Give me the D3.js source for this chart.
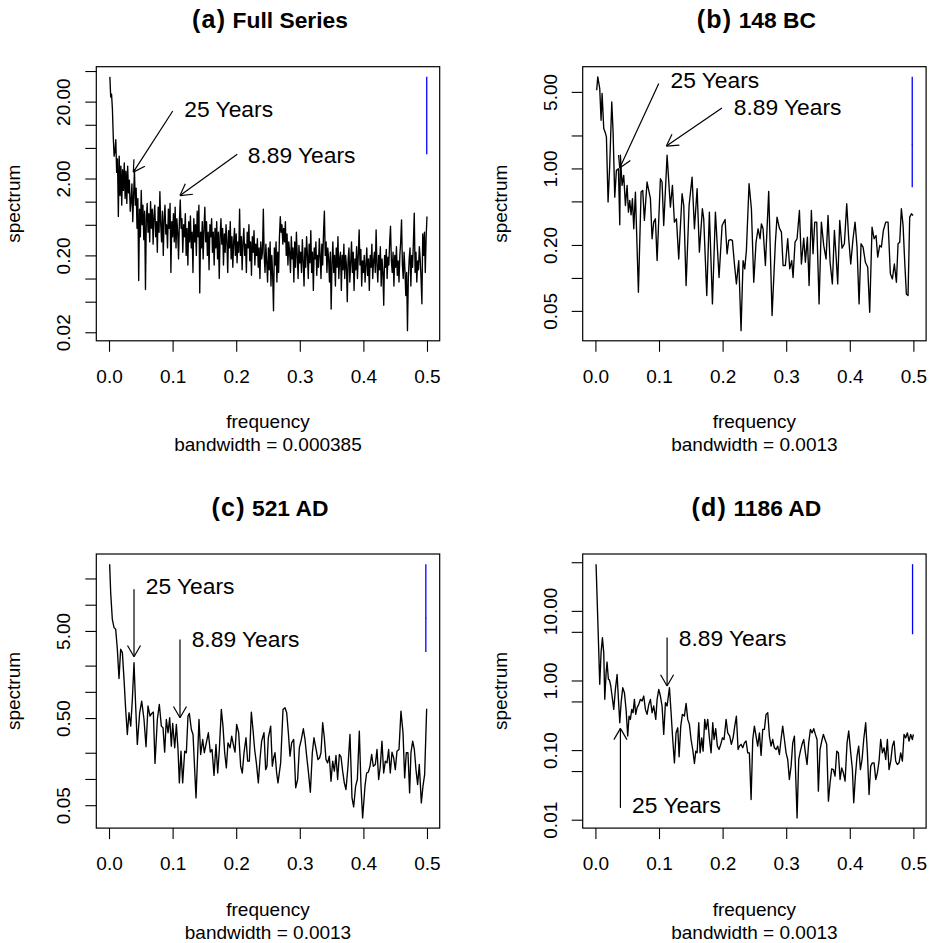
<!DOCTYPE html>
<html><head><meta charset="utf-8">
<script src="https://cdn.jsdelivr.net/npm/d3@7"></script>
<style>
body{margin:0;background:#fff}
svg{display:block}
text{font-family:"Liberation Sans",Arial,Helvetica,sans-serif;fill:#000}
</style>
</head><body>
<svg id="chart" width="934" height="943"></svg>
<script>
// ---------- data ----------
// (a) Full series: raw periodogram on Fourier frequencies k/750, k = 1..375
const specA = [
42,23,25,16,7.0,3.9,4.5,6.4,2.4,3.6,0.64,3.9,1.2,2.9,0.9,2.6,1.4,3.2,1.1,2.5,0.95,2.9,1.3,1.9,0.75,
1.0,1.7,0.55,1.2,2.6,0.9,1.5,0.45,1.1,0.094,0.8,0.35,1.4,0.5,0.9,0.32,0.75,0.072,0.6,0.95,0.4,0.7,0.3,1.0,0.45,
0.8,0.28,0.65,0.9,0.35,0.55,0.22,0.85,0.4,1.35,0.5,0.3,0.75,0.2,0.6,0.9,0.38,0.5,0.25,0.8,0.45,0.95,0.12,0.55,0.35,
0.7,0.3,0.85,0.25,0.6,0.4,0.18,0.55,1.05,0.45,0.6,0.22,0.5,0.35,0.7,0.2,0.45,0.15,0.55,0.3,0.65,0.25,0.4,0.12,0.6,
0.3,0.5,0.2,0.75,0.35,0.9,0.065,0.4,0.25,0.55,0.18,0.45,0.85,0.3,0.55,0.2,0.4,0.13,0.5,0.35,0.6,0.22,0.4,0.15,0.45,
0.25,0.55,0.18,0.4,0.1,0.35,0.6,0.28,0.45,0.15,0.38,0.22,0.5,0.3,0.12,0.42,0.25,0.55,0.18,0.35,0.14,0.3,0.45,0.2,0.38,
0.16,0.3,0.22,0.8,0.2,0.35,0.13,0.3,0.45,0.2,0.28,0.12,0.4,0.25,0.5,0.17,0.3,0.11,0.35,0.22,0.42,0.15,0.28,0.2,0.33,
0.14,0.25,0.1,0.3,0.18,0.22,0.8,0.2,0.12,0.28,0.16,0.09,0.25,0.13,0.3,0.08,0.2,0.11,0.038,0.25,0.15,0.3,0.09,0.22,0.12,
0.35,0.64,0.4,0.5,0.28,0.45,0.3,0.55,0.2,0.38,0.15,0.3,0.22,0.12,0.35,0.18,0.25,0.09,0.3,0.14,0.4,0.2,0.1,0.27,0.16,
0.22,0.12,0.32,0.17,0.08,0.25,0.14,0.35,0.2,0.1,0.28,0.16,0.42,0.12,0.22,0.07,0.25,0.18,0.3,0.11,0.2,0.14,0.33,0.2,0.1,
0.28,0.15,0.4,0.75,0.2,0.3,0.12,0.25,0.18,0.09,0.22,0.04,0.16,0.3,0.12,0.2,0.08,0.25,0.14,0.35,0.1,0.18,0.22,0.07,0.2,
0.13,0.28,0.1,0.2,0.15,0.05,0.18,0.25,0.09,0.16,0.3,0.12,0.22,0.07,0.18,0.13,0.26,0.1,0.2,0.43,0.15,0.24,0.08,0.17,0.12,
0.2,0.09,0.15,0.25,0.11,0.18,0.07,0.2,0.14,0.28,0.1,0.17,0.22,0.12,0.43,0.15,0.09,0.2,0.13,0.26,0.08,0.18,0.12,0.045,0.2,
0.14,0.24,0.1,0.19,0.15,0.3,0.48,0.17,0.12,0.22,0.08,0.2,0.14,0.26,0.11,0.17,0.09,0.2,0.3,0.58,0.15,0.1,0.22,0.13,0.06,
0.12,0.021,0.1,0.18,0.25,0.08,0.2,0.14,0.3,0.71,0.12,0.22,0.09,0.17,0.13,0.26,0.18,0.1,0.047,0.38,0.2,0.4,0.12,0.35,0.64];
const freqA = specA.map((_, i) => (i + 1) / 750);   // Fourier frequency grid

// (b) 148 BC
const freqB = [
0.002,0.0037,0.0068,0.0089,0.0105,0.0131,0.0152,0.0173,0.0199,0.0225,
0.0257,0.0278,0.0304,0.0330,0.0362,0.0383,0.0393,0.0419,0.0445,0.0472,
0.0498,0.0519,0.0540,0.0561,0.0582,0.0603,0.0629,0.0676,0.0718,0.0744,
0.0770,0.0812,0.0844,0.0865,0.0891,0.0917,0.0943,0.0970,0.1022,0.1048,
0.1074,0.1127,0.1179,0.1211,0.1242,0.1274,0.1310,0.1363,0.1389,0.1426,
0.1473,0.1520,0.1557,0.1599,0.1635,0.1682,0.1703,0.1751,0.1792,0.1840,
0.1887,0.1944,0.1992,0.2039,0.2070,0.2096,0.2123,0.2154,0.2186,0.2217,
0.2254,0.2290,0.2322,0.2348,0.2374,0.2416,0.2453,0.2490,0.2526,0.2558,
0.2589,0.2610,0.2636,0.2673,0.2725,0.2778,0.2830,0.2856,0.2893,0.2925,
0.2951,0.2987,0.3024,0.3056,0.3087,0.3108,0.3139,0.3171,0.3208,0.3239,
0.3276,0.3302,0.3333,0.3360,0.3396,0.3422,0.3449,0.3480,0.3517,0.3553,
0.3590,0.3627,0.3658,0.3690,0.3726,0.3758,0.3784,0.3810,0.3842,0.3878,
0.3915,0.3952,0.3983,0.4015,0.4051,0.4083,0.4114,0.4146,0.4177,0.4209,
0.4245,0.4282,0.4313,0.4350,0.4382,0.4413,0.4439,0.4471,0.4497,0.4528,
0.4565,0.4602,0.4638,0.4670,0.4701,0.4733,0.4759,0.4785,0.4811,0.4838,
0.4864,0.4890,0.4916,0.4942,0.4969,0.4995];
const specB = [
5.18,6.86,5.37,2.75,4.83,2.31,2.15,1.94,0.493,1.067,
4.05,2.15,0.547,0.96,0.995,0.306,1.32,0.70,0.864,0.459,
0.70,0.399,0.510,0.377,0.529,0.281,0.608,0.074,0.608,0.630,
0.335,0.751,0.608,0.529,0.228,0.323,0.347,0.144,0.806,0.751,
0.301,1.32,0.443,0.70,0.323,0.347,0.149,0.587,0.459,0.0851,
0.459,0.834,0.281,0.653,0.172,0.428,0.347,0.069,0.399,0.0579,
0.399,0.101,0.301,0.342,0.166,0.220,0.224,0.220,0.134,0.0882,
0.144,0.033,0.144,0.121,0.178,0.725,0.428,0.0913,0.212,0.281,
0.228,0.312,0.281,0.130,0.617,0.0453,0.212,0.359,0.285,0.262,
0.130,0.130,0.228,0.121,0.144,0.101,0.212,0.228,0.413,0.134,
0.231,0.139,0.236,0.0851,0.413,0.166,0.323,0.323,0.0579,0.323,
0.198,0.149,0.372,0.139,0.0882,0.271,0.160,0.0882,0.335,0.187,
0.205,0.476,0.228,0.134,0.228,0.323,0.191,0.0579,0.205,0.191,
0.139,0.125,0.0486,0.291,0.228,0.244,0.155,0.198,0.191,0.271,
0.323,0.323,0.109,0.098,0.134,0.0913,0.205,0.212,0.428,0.301,
0.139,0.0714,0.069,0.359,0.385,0.372];

// (c) 521 AD
const freqC = [
0.001,0.0026,0.0052,0.0079,0.0105,0.0131,0.0157,0.0183,0.0210,0.0236,
0.0262,0.0288,0.0314,0.0341,0.0367,0.0393,0.0419,0.0445,0.0482,0.0514,
0.0550,0.0582,0.0613,0.0645,0.0671,0.0697,0.0723,0.0760,0.0791,0.0823,
0.0849,0.0875,0.0901,0.0928,0.0954,0.0980,0.1001,0.1033,0.1059,0.1085,
0.1106,0.1132,0.1158,0.1190,0.1216,0.1242,0.1263,0.1295,0.1321,0.1368,
0.1415,0.1441,0.1473,0.1499,0.1530,0.1562,0.1593,0.1620,0.1651,0.1682,
0.1709,0.1735,0.1766,0.1792,0.1819,0.1845,0.1871,0.1903,0.1929,0.1960,
0.1981,0.2007,0.2039,0.2070,0.2096,0.2123,0.2154,0.2180,0.2207,0.2238,
0.2264,0.2290,0.2317,0.2348,0.2374,0.2400,0.2437,0.2463,0.2484,0.2505,
0.2542,0.2568,0.2589,0.2610,0.2636,0.2657,0.2699,0.2736,0.2767,0.2794,
0.2820,0.2846,0.2872,0.2904,0.2935,0.2966,0.2993,0.3024,0.3056,0.3082,
0.3108,0.3134,0.3166,0.3197,0.3223,0.3255,0.3286,0.3312,0.3333,0.3360,
0.3386,0.3412,0.3438,0.3464,0.3491,0.3517,0.3543,0.3569,0.3595,0.3622,
0.3648,0.3674,0.3700,0.3726,0.3758,0.3789,0.3821,0.3847,0.3878,0.3905,
0.3936,0.3962,0.3988,0.4025,0.4051,0.4078,0.4104,0.4130,0.4156,0.4188,
0.4214,0.4240,0.4266,0.4292,0.4319,0.4345,0.4371,0.4397,0.4423,0.4450,
0.4476,0.4502,0.4528,0.4560,0.4591,0.4623,0.4649,0.4675,0.4701,0.4727,
0.4748,0.4775,0.4801,0.4827,0.4853,0.4879,0.4911,0.4937,0.4963,0.4995];
const specC = [
29.2,13.8,6.80,5.46,5.22,3.08,1.42,3.08,2.82,1.39,
0.628,0.324,0.575,0.404,0.819,2.16,0.687,0.249,0.575,0.783,
0.482,0.234,0.687,0.527,0.565,0.586,0.151,0.482,0.718,0.404,
0.387,0.203,0.482,0.339,0.504,0.238,0.434,0.228,0.423,0.218,
0.0902,0.208,0.0902,0.208,0.200,0.527,0.565,0.370,0.324,0.0607,
0.482,0.191,0.284,0.200,0.260,0.339,0.203,0.218,0.110,0.249,
0.117,0.218,0.628,0.404,0.200,0.134,0.260,0.228,0.310,0.238,
0.203,0.423,0.339,0.140,0.117,0.200,0.297,0.160,0.160,0.586,
0.370,0.218,0.153,0.0902,0.167,0.272,0.339,0.128,0.140,0.297,
0.404,0.140,0.175,0.200,0.117,0.0902,0.153,0.628,0.657,0.575,
0.339,0.183,0.260,0.284,0.0791,0.0986,0.228,0.284,0.377,0.284,
0.183,0.123,0.0705,0.200,0.297,0.222,0.167,0.175,0.200,0.442,
0.297,0.167,0.153,0.183,0.0942,0.160,0.123,0.186,0.0986,0.191,
0.179,0.123,0.0902,0.0757,0.140,0.324,0.0607,0.0478,0.0826,0.0986,
0.354,0.0841,0.0357,0.0826,0.117,0.120,0.140,0.191,0.140,0.147,
0.218,0.0986,0.140,0.272,0.117,0.160,0.153,0.218,0.117,0.203,
0.175,0.128,0.208,0.218,0.601,0.339,0.103,0.200,0.200,0.0692,
0.200,0.272,0.218,0.128,0.0863,0.147,0.0531,0.0826,0.112,0.640];

// (d) 1186 AD
const freqD = [
0.001,0.0037,0.0068,0.0089,0.0110,0.0131,0.0147,0.0168,0.0183,0.0204,
0.0220,0.0241,0.0262,0.0288,0.0314,0.0341,0.0362,0.0383,0.0404,0.0430,
0.0456,0.0482,0.0508,0.0529,0.0550,0.0571,0.0592,0.0613,0.0634,0.0655,
0.0681,0.0708,0.0734,0.0760,0.0786,0.0812,0.0839,0.0865,0.0891,0.0917,
0.0949,0.0970,0.0996,0.1022,0.1048,0.1074,0.1101,0.1127,0.1164,0.1190,
0.1216,0.1242,0.1268,0.1295,0.1316,0.1342,0.1368,0.1399,0.1426,0.1452,
0.1478,0.1504,0.1530,0.1557,0.1578,0.1599,0.1625,0.1646,0.1672,0.1693,
0.1719,0.1740,0.1766,0.1792,0.1819,0.1845,0.1866,0.1892,0.1918,0.1944,
0.1971,0.1997,0.2023,0.2055,0.2081,0.2112,0.2138,0.2165,0.2191,0.2217,
0.2243,0.2264,0.2290,0.2317,0.2343,0.2369,0.2395,0.2421,0.2448,0.2474,
0.2500,0.2526,0.2552,0.2579,0.2605,0.2631,0.2657,0.2683,0.2710,0.2736,
0.2762,0.2788,0.2814,0.2841,0.2867,0.2893,0.2919,0.2945,0.2972,0.2998,
0.3024,0.3050,0.3077,0.3103,0.3129,0.3155,0.3171,0.3197,0.3223,0.3249,
0.3276,0.3302,0.3328,0.3354,0.3381,0.3407,0.3433,0.3459,0.3485,0.3506,
0.3532,0.3559,0.3585,0.3611,0.3637,0.3664,0.3690,0.3716,0.3742,0.3768,
0.3795,0.3821,0.3847,0.3873,0.3899,0.3926,0.3957,0.3983,0.4015,0.4041,
0.4062,0.4088,0.4114,0.4140,0.4167,0.4193,0.4219,0.4250,0.4277,0.4303,
0.4329,0.4355,0.4382,0.4408,0.4434,0.4460,0.4486,0.4513,0.4539,0.4565,
0.4591,0.4617,0.4644,0.4670,0.4696,0.4722,0.4748,0.4775,0.4801,0.4827,
0.4853,0.4879,0.4906,0.4932,0.4958,0.4984,0.5000];
const specD = [
46.9,7.59,0.881,2.51,4.13,2.51,0.536,1.29,1.84,1.04,
1.02,0.834,0.598,0.385,0.746,1.22,0.536,0.247,0.480,0.789,
0.668,0.385,0.159,0.308,0.276,0.385,0.344,0.536,0.326,0.406,
0.454,0.536,0.507,0.598,0.385,0.326,0.454,0.536,0.344,0.430,
0.276,0.536,0.746,0.598,0.430,0.168,0.480,0.430,0.789,0.344,
0.142,0.0656,0.177,0.209,0.0802,0.221,0.326,0.308,0.469,0.276,
0.234,0.142,0.102,0.0643,0.0966,0.0914,0.247,0.0914,0.150,0.0966,
0.276,0.198,0.276,0.150,0.0914,0.247,0.142,0.203,0.114,0.102,
0.121,0.150,0.142,0.276,0.177,0.159,0.121,0.150,0.221,0.308,
0.102,0.114,0.121,0.108,0.127,0.135,0.0914,0.0914,0.0195,0.142,
0.221,0.159,0.114,0.177,0.0838,0.198,0.198,0.326,0.344,0.159,
0.114,0.142,0.108,0.102,0.114,0.0865,0.142,0.221,0.142,0.0914,
0.0733,0.0378,0.0588,0.127,0.159,0.0303,0.0106,0.0733,0.0966,0.121,
0.142,0.0914,0.0621,0.127,0.198,0.177,0.203,0.168,0.142,0.0257,
0.102,0.135,0.168,0.142,0.121,0.0185,0.0339,0.0538,0.0526,0.0423,
0.0966,0.0914,0.0378,0.0556,0.0472,0.0358,0.127,0.188,0.0914,0.0526,
0.0175,0.0423,0.0818,0.114,0.0526,0.0733,0.142,0.247,0.0914,0.0230,
0.0588,0.0656,0.0656,0.0378,0.0472,0.0693,0.142,0.0914,0.108,0.0733,
0.142,0.0526,0.0693,0.114,0.135,0.0693,0.0621,0.0656,0.0914,0.0693,
0.168,0.150,0.177,0.135,0.168,0.142,0.168];

// axis ticks
const xTicks = [0, 0.1, 0.2, 0.3, 0.4, 0.5];
const yTicksA = [0.02,0.05,0.1,0.2,0.5,1,2,5,10,20,50];
const yLabelsA = [0.02,0.2,2,20];
const yTicksB = [0.05,0.1,0.2,0.5,1,2,5];
const yLabelsB = [0.05,0.2,1,5];
const yTicksC = [0.05,0.1,0.2,0.5,1,2,5,10,20];
const yLabelsC = [0.05,0.5,5];
const yTicksD = [0.01,0.05,0.1,0.5,1,5,10,50];
const yLabelsD = [0.01,0.1,1,10];

// annotations: text anchor (freq, spectrum) and arrow from -> to (freq, spectrum)
const annA = [
  {label:"25 Years",   tx:0.1184, ty:16.2, from:[0.1002,15.1], to:[0.0382,2.42]},
  {label:"8.89 Years", tx:0.2181, ty:4.09, from:[0.2017,4.14], to:[0.1116,1.20]}];
const annB = [
  {label:"25 Years",   tx:0.118,  ty:6.36, from:[0.0996,5.97], to:[0.0382,1.01]},
  {label:"8.89 Years", tx:0.2175, ty:3.64, from:[0.199,3.57],  to:[0.1116,1.60]}];
const annC = [
  {label:"25 Years",   tx:0.0577, ty:16.3, from:[0.0393,15.0], to:[0.0393,2.53]},
  {label:"8.89 Years", tx:0.130,  ty:4.05, from:[0.1116,4.0],  to:[0.1116,0.504]}];
const annD = [
  {label:"8.89 Years", tx:0.131,  ty:4.09,   from:[0.1127,4.13],   to:[0.1127,0.834]},
  {label:"25 Years",   tx:0.0577, ty:0.0163, from:[0.0393,0.0148], to:[0.0393,0.205]}];

// confidence-interval multipliers (lower, upper) for the blue bar
const ciLim = [0.41, 4.17];

const panels = [
  {tag:"(a)", name:"Full Series", freq:freqA, spec:specA, bw:0.000385, bwText:"0.000385", ticks:yTicksA, labels:yLabelsA, ann:annA, left:96.3,  top:66.7},
  {tag:"(b)", name:"148 BC",      freq:freqB, spec:specB, bw:0.0013,   bwText:"0.0013",   ticks:yTicksB, labels:yLabelsB, ann:annB, left:582.7, top:66.7},
  {tag:"(c)", name:"521 AD",      freq:freqC, spec:specC, bw:0.0013,   bwText:"0.0013",   ticks:yTicksC, labels:yLabelsC, ann:annC, left:96.3,  top:554},
  {tag:"(d)", name:"1186 AD",     freq:freqD, spec:specD, bw:0.0013,   bwText:"0.0013",   ticks:yTicksD, labels:yLabelsD, ann:annD, left:582.7, top:554}
];

// ---------- drawing ----------
const svg = d3.select("#chart");
svg.append("rect").attr("width",934).attr("height",943).attr("fill","#fff");
const plotW = 343.4, plotH = 274.1;
const FONT = "'Liberation Sans',Arial,Helvetica,sans-serif";

panels.forEach(p => {
  const L = p.left, T = p.top, R = L + plotW, B = T + plotH;
  const x = d3.scaleLinear().domain([-0.02, 0.52]).range([L, R]);
  const ext = d3.extent(p.spec);
  const lo = Math.log10(ext[0]), hi = Math.log10(ext[1]), pad = (hi - lo) * 0.04;
  const y = d3.scaleLog().domain([Math.pow(10, lo - pad), Math.pow(10, hi + pad)]).range([B, T]);
  const g = svg.append("g");

  // spectrum line
  const data = p.freq.map((f, i) => ({f, s: p.spec[i]}));
  g.append("path").datum(data)
    .attr("d", d3.line().x(d => x(d.f)).y(d => y(d.s)))
    .attr("fill","none").attr("stroke","#000").attr("stroke-width",1.35)
    .attr("stroke-linejoin","round");

  // box
  g.append("rect").attr("x",L).attr("y",T).attr("width",plotW).attr("height",plotH)
    .attr("fill","none").attr("stroke","#000").attr("stroke-width",1.2);

  // x axis
  const xa = g.append("g").attr("transform",`translate(0,${B})`)
    .call(d3.axisBottom(x).tickValues(xTicks).tickFormat(d3.format(".1f"))
      .tickSize(11).tickSizeOuter(0).tickPadding(17.6));
  xa.select(".domain").remove();
  xa.attr("font-family",FONT).attr("font-size",19).attr("color","#000");
  xa.selectAll("line").attr("stroke-width",1.1);

  // y axis (labels parallel to the axis, as in R)
  const ya = g.append("g").attr("transform",`translate(${L},0)`)
    .call(d3.axisLeft(y).tickValues(p.ticks)
      .tickFormat(d => p.labels.some(v => Math.abs(v - d) < 1e-9) ? d3.format(".2f")(d) : "")
      .tickSize(11).tickSizeOuter(0));
  ya.select(".domain").remove();
  ya.attr("font-family",FONT).attr("font-size",19).attr("color","#000");
  ya.selectAll("line").attr("stroke-width",1.1);
  ya.selectAll(".tick text").attr("x",null).attr("dy",null)
    .attr("text-anchor","middle").attr("transform","translate(-26,0) rotate(-90)");

  // axis titles
  g.append("text").attr("transform",`translate(${L-76},${(T+B)/2}) rotate(-90)`)
    .attr("text-anchor","middle").attr("font-size",19).text("spectrum");
  g.append("text").attr("x",(L+R)/2).attr("y",B+87.6).attr("text-anchor","middle")
    .attr("font-size",19).text("frequency");
  g.append("text").attr("x",(L+R)/2).attr("y",B+110.6).attr("text-anchor","middle")
    .attr("font-size",19).text("bandwidth = " + p.bwText);

  // main title
  const t = g.append("text").attr("x",(L+R)/2+2).attr("y",T-38.4)
    .attr("text-anchor","middle").attr("font-weight","bold");
  t.append("tspan").attr("font-size",25).attr("letter-spacing","1.2px").text(p.tag);
  t.append("tspan").attr("font-size",22.8).text(" " + p.name);

  // confidence interval bar (blue)
  const maxS = d3.max(p.spec), maxF = d3.max(p.freq);
  const confY = maxS / ciLim[1];
  const cx = x(maxF - p.bw);
  g.append("line").attr("x1",cx).attr("x2",cx)
    .attr("y1",y(confY*ciLim[0])).attr("y2",y(confY*ciLim[1]))
    .attr("stroke","#0000ff").attr("stroke-width",1.3);
  g.append("line").attr("x1",x(maxF - 1.5*p.bw)).attr("x2",x(maxF - 0.5*p.bw))
    .attr("y1",y(confY)).attr("y2",y(confY))
    .attr("stroke","#0000ff").attr("stroke-width",1.3);

  // annotations
  p.ann.forEach(a => {
    g.append("text").attr("x",x(a.tx)).attr("y",y(a.ty)).attr("dy","0.35em")
      .attr("font-size",22.8).text(a.label);
    const x0 = x(a.from[0]), y0 = y(a.from[1]), x1 = x(a.to[0]), y1 = y(a.to[1]);
    g.append("line").attr("x1",x0).attr("y1",y0).attr("x2",x1).attr("y2",y1)
      .attr("stroke","#000").attr("stroke-width",1.2);
    const ang = Math.atan2(y0 - y1, x0 - x1), len = 13, spread = Math.PI / 6;
    [ang - spread, ang + spread].forEach(th => {
      g.append("line").attr("x1",x1).attr("y1",y1)
        .attr("x2",x1 + len*Math.cos(th)).attr("y2",y1 + len*Math.sin(th))
        .attr("stroke","#000").attr("stroke-width",1.2);
    });
  });
});
</script>
</body></html>
